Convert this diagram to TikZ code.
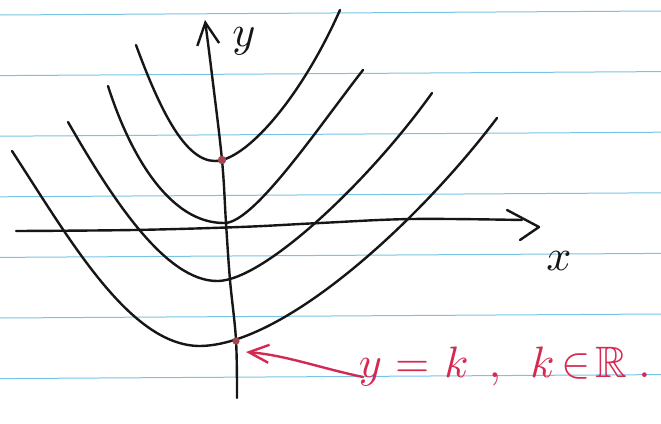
\documentclass[tikz,border=0pt]{standalone}
\usepackage{amssymb}
\usetikzlibrary{arrows.meta}
\definecolor{rulecol}{RGB}{120,196,228}
\definecolor{pencol}{RGB}{22,22,22}
\definecolor{redpen}{RGB}{212,42,82}
\definecolor{dotcol}{RGB}{160,70,80}
\begin{document}
\begin{tikzpicture}[x=1pt,y=-1pt,
  rulestyle/.style={rulecol, line width=1pt},
  curve/.style={pencol, line width=2.4pt, line cap=round, line join=round},
  redline/.style={redpen, line width=2.4pt, line cap=round, line join=round},
  dotstyle/.style={fill=dotcol},
  handtext/.style={inner sep=0pt, scale=4.4}]
\useasboundingbox (0,0) rectangle (661,423);
\fill[white] (0,0) rectangle (661,423);
% ruled paper
\foreach \i in {0,...,6}
  \draw[rulestyle] (0,{15+60.6*\i}) -- (661,{11+60.6*\i});
% curves
\draw[curve] (136,45) .. controls (160,110) and (185,161) .. (215,161)
             .. controls (245,161) and (300,100) .. (340,10);
\draw[curve] (108,86) .. controls (130,155) and (170,224) .. (225,223)
             .. controls (255,222) and (320,125) .. (363,70);
\draw[curve] (68,122) .. controls (110,195) and (165,282) .. (218,281)
             .. controls (265,280) and (370,180) .. (432,93);
\draw[curve] (12,151) .. controls (70,240) and (130,346) .. (200,346)
             .. controls (285,345) and (420,220) .. (497,118);
% x axis
\draw[curve] plot[smooth, tension=0.6] coordinates
  {(16,231) (133,230) (240,227) (320,223) (412,219) (522,220)};
\draw[curve] (507,210) -- (539,227) -- (520,240);
% y axis
\draw[curve, -{Straight Barb[length=22pt,width=22pt,line width=2.4pt]}] plot[smooth, tension=0.6] coordinates
  {(237,398) (236,340) (230,280) (226,223) (222,160) (212,75) (205,20)};
% dots
\coordinate (dotA) at (222,160);
\coordinate (dotK) at (236,341);
\fill[dotstyle] (dotA) circle (4.2pt);
\fill[dotstyle] (dotK) circle (3.6pt);
% labels
\node[handtext, pencol] (ylab) at (244,41) {$y$};
\node[handtext, pencol] (xlab) at (559,261) {$x$};
\node[handtext, redpen, anchor=base west] (klab) at (358,377)
  {$y\hspace{3pt}{=}\hspace{3.4pt}k\hspace{4.6pt},\hspace{5pt}k\hspace{1.5pt}{\in}\hspace{1pt}\mathbb{R}\hspace{2.6pt}.$};
% red arrow
\coordinate (arrstart) at (363,377);
\coordinate (arrtip) at (246,352);
\draw[redline, -{Straight Barb[length=20pt,width=18pt,line width=2.4pt]}] (arrstart) .. controls (320,368) and (285,355) .. (arrtip);
\end{tikzpicture}
\end{document}
